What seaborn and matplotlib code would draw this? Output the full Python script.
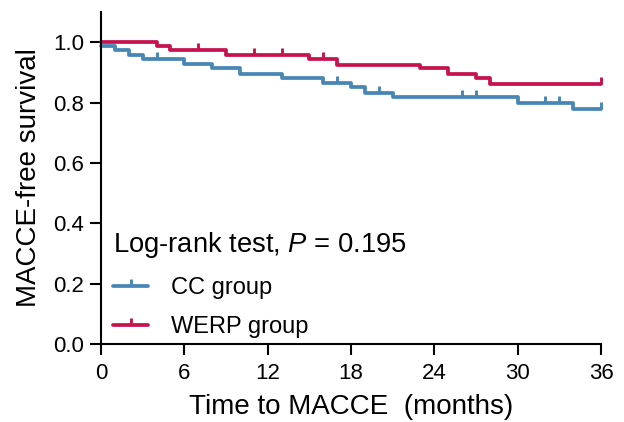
import numpy as np
import pandas as pd
import matplotlib
matplotlib.use("Agg")
import matplotlib.pyplot as plt
from matplotlib.lines import Line2D
import seaborn as sns

# ---- data ----
cc_times = [0, 1, 2, 3, 6, 8, 10, 13, 16, 18, 19, 21, 30, 34, 36]
cc_surv = [0.987, 0.974, 0.959, 0.944, 0.929, 0.913, 0.896, 0.882, 0.866,
           0.850, 0.833, 0.819, 0.799, 0.780, 0.780]
cc_censor = [4, 17, 20, 26, 27, 32, 33, 36]

werp_times = [0, 4, 5, 9, 15, 17, 23, 25, 27, 28, 36]
werp_surv = [1.0, 0.987, 0.974, 0.959, 0.943, 0.926, 0.913, 0.896, 0.880,
             0.863, 0.863]
werp_censor = [7, 11, 13, 16, 36]

groups = ["CC group", "WERP group"]
colors = {"CC group": "#4886B5", "WERP group": "#C6134E"}
legend_title = "Log-rank test, $\\it{P}$ = 0.195"
x_ticks = [0, 6, 12, 18, 24, 30, 36]
y_ticks = [0.0, 0.2, 0.4, 0.6, 0.8, 1.0]

df = pd.concat([
    pd.DataFrame({"time": cc_times, "surv": cc_surv, "group": "CC group"}),
    pd.DataFrame({"time": werp_times, "surv": werp_surv, "group": "WERP group"}),
])

def surv_at(times, surv, t):
    idx = np.searchsorted(times, t, side="right") - 1
    return surv[idx]

cens = {
    "CC group": (cc_censor, [surv_at(cc_times, cc_surv, t) for t in cc_censor]),
    "WERP group": (werp_censor, [surv_at(werp_times, werp_surv, t) for t in werp_censor]),
}

# ---- style ----
sns.set_style("ticks")
plt.rcParams["font.family"] = ["Liberation Sans", "DejaVu Sans"]
plt.rcParams["mathtext.fontset"] = "custom"
plt.rcParams["mathtext.it"] = "Liberation Sans:italic"
plt.rcParams["mathtext.rm"] = "Liberation Sans"
plt.rcParams["text.color"] = "black"
plt.rcParams["axes.labelcolor"] = "black"

fig = plt.figure(figsize=(6.24, 4.22), dpi=100)
ax = fig.add_axes([101 / 624, 78 / 422, 500 / 624, 332 / 422])

tick_up = [(0, 0), (0, 1)]
lw = 2.7
msize = 10
mew = 2.1

for g in groups:
    sub = df[df["group"] == g]
    sns.lineplot(data=sub, x="time", y="surv", ax=ax, color=colors[g],
                 drawstyle="steps-post", linewidth=lw, estimator=None,
                 legend=False, clip_on=False)
    ct, cs = cens[g]
    ax.plot(ct, cs, linestyle="none", marker=tick_up, markersize=msize,
            markeredgewidth=mew, color=colors[g], clip_on=False)

ax.set_xlim(0, 36)
ax.set_ylim(0, 1.1)
ax.set_xticks(x_ticks)
ax.set_yticks(y_ticks)
ax.set_yticklabels([f"{v:.1f}" for v in y_ticks])
ax.tick_params(axis="both", direction="out", length=8, width=1.5,
               labelsize=16, color="black", labelcolor="black", pad=4)
ax.tick_params(axis="x", pad=6)
for s in ["left", "bottom"]:
    ax.spines[s].set_linewidth(1.5)
    ax.spines[s].set_color("black")
sns.despine(ax=ax)

ax.set_xlabel("Time to MACCE  (months)", fontsize=20, labelpad=7)
ax.set_ylabel("MACCE-free survival", fontsize=20, labelpad=8)

handles = [Line2D([0], [0], color=colors[g], linewidth=lw, marker=tick_up,
                  markersize=msize, markeredgewidth=mew) for g in groups]
leg = ax.legend(handles, groups, title=legend_title, loc="upper left",
                bbox_to_anchor=(113 / 624, 1 - 230 / 422),
                bbox_transform=fig.transFigure, frameon=False, fontsize=17,
                title_fontsize=19.7, handlelength=1.5, handletextpad=0.95,
                labelspacing=0.72, borderaxespad=0, borderpad=0)
leg._legend_box.align = "left"

fig.savefig("out.png", dpi=100)
